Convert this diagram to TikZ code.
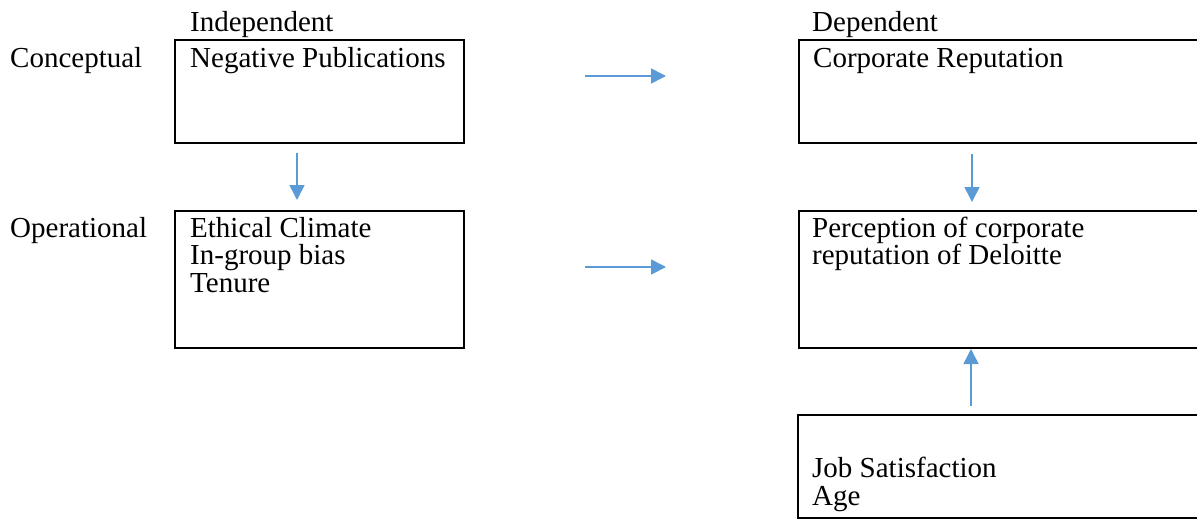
\documentclass[tikz,border=0pt]{standalone}
\usepackage{fontspec}
\setmainfont{Liberation Serif}
\usepackage{tikz}
\usetikzlibrary{positioning,calc,arrows.meta}
\definecolor{ArrowBlue}{HTML}{5B9BD5}

\begin{document}
\begin{tikzpicture}[
  x=1pt, y=-1pt,
  vbox/.style={rectangle, draw=black, line width=2pt, anchor=north west,
               minimum width=#1, inner sep=0pt},
  txt/.style={anchor=base west, inner sep=0pt, align=left,
              font=\fontsize{29}{27.5}\selectfont},
  arr/.style={-{Triangle[length=15pt, width=15pt]}, line width=1.6pt, color=ArrowBlue},
]
  \clip (0,0) rectangle (1197,519);

  % Column heads and row labels
  \node[txt] (indep) at (190,32) {Independent};
  \node[txt] (dep) at (812,32) {Dependent};
  \node[txt] (concept) at (10,67) {Conceptual};
  \node[txt] (oper) at (10,237) {Operational};

  % Independent side (base anchor = last line)
  \node[vbox=289pt, minimum height=103pt] (neg) at (174,39) {};
  \node[txt] (negtxt) at ($(neg.north west)+(16,28)$) {Negative Publications};
  \node[vbox=289pt, minimum height=137pt] (eth) at (174,210) {};
  \node[txt] (ethtxt) at ($(eth.north west)+(16,82)$) {Ethical Climate\\In-group bias\\Tenure};

  % Dependent side
  \node[vbox=420pt, minimum height=103pt] (corp) at (798,39) {};
  \node[txt] (corptxt) at ($(corp.north west)+(15,28)$) {Corporate Reputation};
  \node[vbox=420pt, minimum height=137pt] (perc) at (798,210) {};
  \node[txt] (perctxt) at ($(perc.north west)+(14,54.5)$) {Perception of corporate\\reputation of Deloitte};
  \node[vbox=420pt, minimum height=103pt] (job) at (797,414) {};
  \node[txt] (jobtxt) at ($(job.north west)+(15,91)$) {Job Satisfaction\\Age};

  % Arrows
  \coordinate (h1s) at (585,76);
  \coordinate (h1e) at (666,76);
  \coordinate (h2s) at (585,267);
  \coordinate (h2e) at (666,267);
  \coordinate (v1s) at (297,153);
  \coordinate (v1e) at (297,200);
  \coordinate (v2s) at (972,154);
  \coordinate (v2e) at (972,202);
  \coordinate (upx) at (971,406);
  \draw[arr] (h1s) -- (h1e);
  \draw[arr] (h2s) -- (h2e);
  \draw[arr] (v1s) -- (v1e);
  \draw[arr] (v2s) -- (v2e);
  \draw[arr] (upx) -- (upx |- perc.south);
\end{tikzpicture}
\end{document}
